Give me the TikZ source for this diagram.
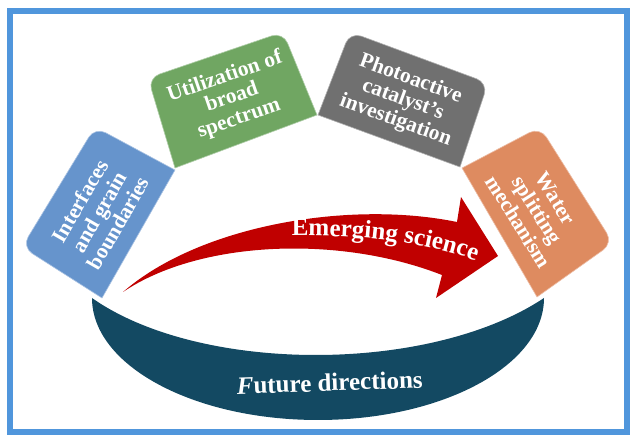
\documentclass[tikz,border=0pt]{standalone}
\usepackage{fontspec}
\setmainfont{Liberation Serif}
\usepackage{tikz}
\usetikzlibrary{calc,positioning,decorations.text}
\definecolor{framecol}{RGB}{80,150,220}
\definecolor{bluecol}{RGB}{102,148,204}
\definecolor{greencol}{RGB}{112,166,98}
\definecolor{graycol}{RGB}{112,112,112}
\definecolor{orangecol}{RGB}{222,139,96}
\definecolor{arrowcol}{RGB}{192,0,0}
\definecolor{ringcol}{RGB}{19,73,98}
\tikzstyle{card}  = [line width=0.6pt]
\tikzstyle{label} = [text=white, align=center, font=\fontsize{21.5}{22}\selectfont\bfseries]

\begin{document}
\begin{tikzpicture}[x=1pt,y=-1pt,
			frame/.style={draw=framecol, line width=6pt},
			ring/.style={fill=ringcol},
			emerge/.style={fill=arrowcol},
		]
		\useasboundingbox (0,0) rectangle (630,435);
		\draw[frame] (10,11) rectangle (627,432);

		% future directions band
		\fill[ring] (544,298) arc[start angle=0, end angle=180, x radius=226, y radius=122]
			.. controls (200,374) and (430,374) .. (544,298) -- cycle;
		\node[text=white, font=\fontsize{25}{25}\selectfont\bfseries, anchor=base, rotate=2]
			(future) at (330,391) {\textit{F}uture directions};

		% the four topics
		\fill[card, bluecol, draw=bluecol!55!white] (175,170) -- (102,298) [rounded corners=12] -- (22,247) -- (95,127) [sharp corners] -- cycle;
		\fill[card, greencol, draw=greencol!55!white] (317,115) -- (175,168) [rounded corners=12] -- (148,78) -- (283,32) [sharp corners] -- cycle;
		\fill[card, graycol, draw=graycol!55!white] (460,167) -- (318,115) [rounded corners=12] -- (350,32) -- (488,83) [sharp corners] -- cycle;
		\fill[card, orangecol, draw=orangecol!55!white] (537,297) -- (462,168) [rounded corners=12] -- (540,127) -- (613,243) [sharp corners] -- cycle;

		\node[label, rotate=60]  (interfaces)  at (99,212)  {Interfaces\\and grain\\boundaries};
		\node[label, rotate=19]  (utilization) at (232,98)  {Utilization of\\broad\\spectrum};
		\node[label, rotate=-20] (photoactive) at (403,100) {Photoactive\\catalyst’s\\investigation};
		\node[label, rotate=-58] (water)       at (537,210) {Water\\splitting\\mechanism};

		% emerging science arrow
		\fill[emerge] (123,292) .. controls (200,225) and (350,200) .. (457,222)
			-- (461,197) -- (498,256) -- (436,298) -- (442,275)
			.. controls (340,235) and (200,240) .. (123,292) -- cycle;
		\path[decorate, decoration={text along path, text align=center,
				text={|\fontsize{25}{25}\selectfont\bfseries\color{white}|Emerging science}}]
			(283,236) .. controls (360,234) and (430,242) .. (484,264);
		\coordinate (emerging) at (392,241);
	\end{tikzpicture}
\end{document}
